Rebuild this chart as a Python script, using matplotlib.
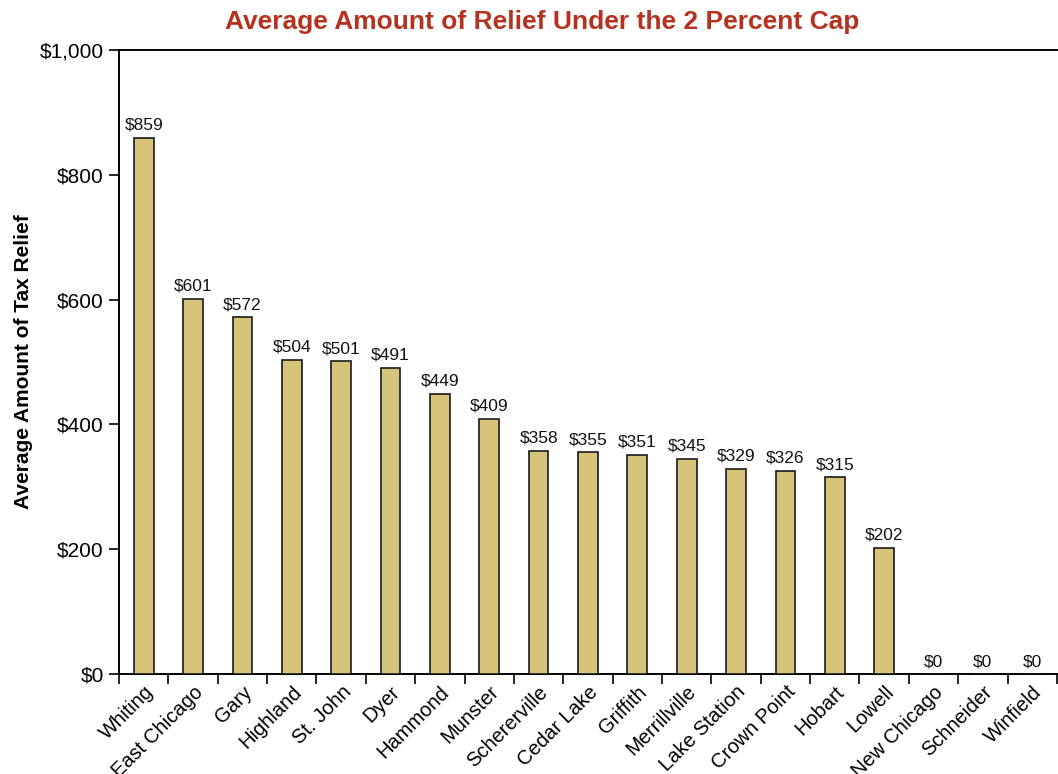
import matplotlib
matplotlib.use("Agg")
import matplotlib.pyplot as plt
import numpy as np

# Data
towns = ["Whiting", "East Chicago", "Gary", "Highland", "St. John", "Dyer",
         "Hammond", "Munster", "Schererville", "Cedar Lake", "Griffith",
         "Merrillville", "Lake Station", "Crown Point", "Hobart", "Lowell",
         "New Chicago", "Schneider", "Winfield"]
relief = [859, 601, 572, 504, 501, 491, 449, 409, 358, 355, 351, 345,
          329, 326, 315, 202, 0, 0, 0]
y_ticks = [0, 200, 400, 600, 800, 1000]

plt.rcParams['font.family'] = ['Liberation Sans', 'DejaVu Sans']

fig = plt.figure(figsize=(10.58, 7.74), dpi=100)
ax = fig.add_axes([0.1125, 0.1292, 0.8865, 0.8062])

x = np.arange(len(towns))
bars = ax.bar(x, relief, width=0.4, color="#D6C47A", edgecolor="#1a1a1a",
              linewidth=1.2, zorder=3)

for xi, val in zip(x, relief):
    ax.text(xi, val + 8, f"${val:,}", ha="center", va="bottom",
            fontsize=12.5, color="#111111")

ax.set_xlim(-0.5, len(towns) - 0.5)
ax.set_ylim(0, 1000)
ax.set_yticks(y_ticks)
ax.set_yticklabels([f"${v:,}" for v in y_ticks], fontsize=15)

ax.set_xticks(x)
ax.set_xticklabels(towns, rotation=45, ha="right", rotation_mode="anchor",
                   fontsize=14.5)
ax.tick_params(axis="x", which="major", length=0, pad=6)
ax.set_xticks(np.arange(len(towns) + 1) - 0.5, minor=True)
ax.tick_params(axis="x", which="minor", length=7, width=1.2, direction="out")
ax.tick_params(axis="y", length=7, width=1.2, direction="out", pad=4)

for side in ["left", "bottom", "top"]:
    ax.spines[side].set_linewidth(1.4)
ax.spines["right"].set_visible(False)

ax.set_ylabel("Average Amount of Tax Relief", fontsize=15, fontweight="bold",
              labelpad=5)
fig.text(0.512, 0.972, "Average Amount of Relief Under the 2 Percent Cap",
         ha="center", va="center", fontsize=19, fontweight="bold",
         color="#B5321F")

fig.savefig("out.png", dpi=100)
